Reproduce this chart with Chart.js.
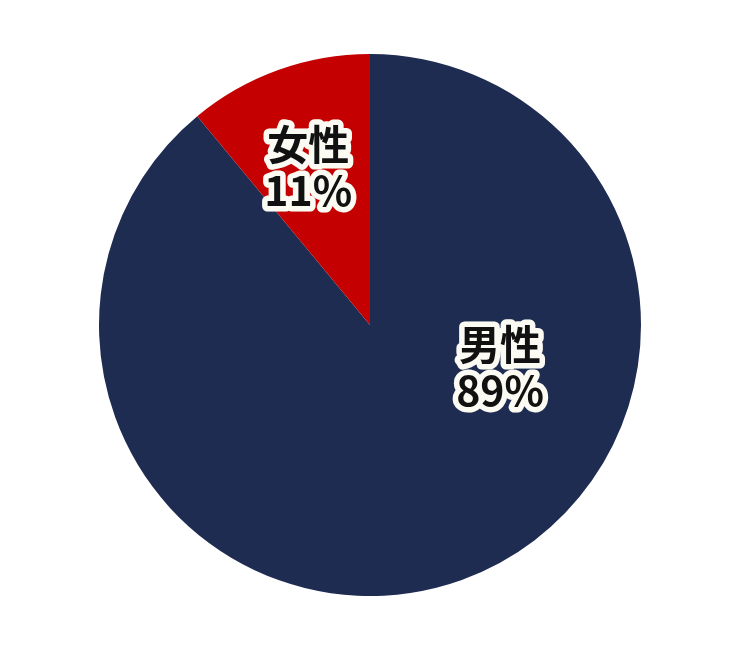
<!DOCTYPE html>
<html><head><meta charset="utf-8">
<script src="https://cdn.jsdelivr.net/npm/chart.js@4"></script>
<style>html,body{margin:0;padding:0;background:#fff;}#wrap{width:740px;height:653px;}</style>
</head><body><div id="wrap"><canvas id="c"></canvas></div>
<script>
const categories = ["男性", "女性"];
const values = [89, 11];
const colors = ["#1f2c52", "#c40000"];
// label offsets relative to pie center, as fraction of radius
const labelOffsets = [[0.48, 0.155], [-0.228, -0.58]];

const labelPlugin = {
  id: 'labels',
  afterDatasetsDraw(chart) {
    const ctx = chart.ctx;
    const meta = chart.getDatasetMeta(0);
    ctx.save();
    ctx.font = 'bold 41px "Noto Sans CJK JP"';
    ctx.textAlign = 'center';
    ctx.textBaseline = 'middle';
    ctx.lineJoin = 'round';
    meta.data.forEach((arc, i) => {
      const r = arc.outerRadius;
      const x = arc.x + labelOffsets[i][0] * r;
      const y = arc.y + labelOffsets[i][1] * r;
      const lines = [categories[i], values[i] + '%'];
      lines.forEach((t, j) => {
        const yy = y + (j - 0.5) * 46;
        ctx.lineWidth = 11;
        ctx.strokeStyle = '#fbfbf3';
        ctx.strokeText(t, x, yy);
        ctx.fillStyle = '#111';
        ctx.fillText(t, x, yy);
      });
    });
    ctx.restore();
  }
};

new Chart(document.getElementById('c'), {
  type: 'pie',
  data: { labels: categories, datasets: [{ data: values, backgroundColor: colors, borderWidth: 0 }] },
  options: {
    responsive: true, maintainAspectRatio: false, animation: false,
    layout: { padding: { top: 54, bottom: 57 } },
    plugins: { legend: { display: false }, tooltip: { enabled: false } }
  },
  plugins: [labelPlugin]
});
</script></body></html>
